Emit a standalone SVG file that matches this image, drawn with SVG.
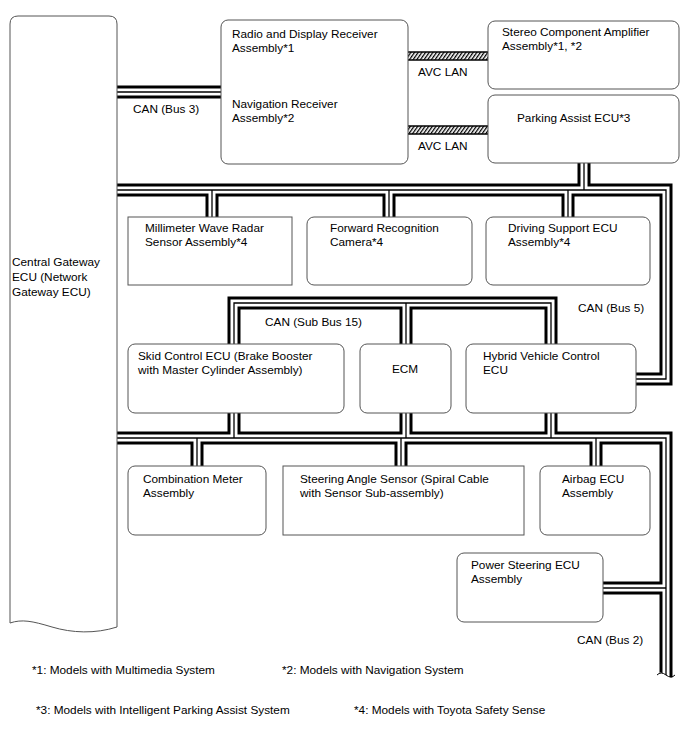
<svg xmlns="http://www.w3.org/2000/svg" xmlns:xlink="http://www.w3.org/1999/xlink" width="688" height="755" viewBox="0 0 688 755">
<style>
text{font-family:"Liberation Sans",Arial,Helvetica,sans-serif;font-size:11.8px;fill:#000}
.box{fill:#fff;stroke:#555;stroke-width:1}
.bus{fill:none;stroke-linejoin:miter;stroke-linecap:butt}
.b1{stroke:#000;stroke-width:13}
.b2{stroke:#fff;stroke-width:7}
.b3{stroke:#000;stroke-width:1.3}
.edge{stroke:#000;stroke-width:1.4}
</style>
<defs>
<pattern id="hatch" patternUnits="userSpaceOnUse" width="3" height="3" patternTransform="rotate(35)">
<rect x="0" y="0" width="1.3" height="3" fill="#000"/>
</pattern>
<g id="buses">
<path d="M115,92 H223"/>
<path d="M115,190 H666 V379 H634"/>
<path d="M584,161 V190"/>
<path d="M212,190 V219"/>
<path d="M389,190 V219"/>
<path d="M568,190 V219"/>
<path d="M234,346 V303 H551 V346"/>
<path d="M406,303 V346"/>
<path d="M115,438 H666 V678"/>
<path d="M234,411 V438"/>
<path d="M406,411 V438"/>
<path d="M551,411 V438"/>
<path d="M197,438 V468"/>
<path d="M401,438 V468"/>
<path d="M596,438 V468"/>
<path d="M666,588 H601"/>
</g>
</defs>
<g id="connectors">
<use xlink:href="#buses" href="#buses" class="bus b1"/>
<use xlink:href="#buses" href="#buses" class="bus b2"/>
<use xlink:href="#buses" href="#buses" class="bus b3"/>
<path d="M655,675 q5,-5 11,0 t11,0 V684 H655 Z" fill="#fff"/>
<path d="M657,675 q4,-4 9,0 t9,0" fill="none" stroke="#000" stroke-width="1"/>
<g id="avc1">
<rect x="408" y="52" width="80" height="8" fill="url(#hatch)"/>
<line x1="408" y1="52" x2="488" y2="52" class="edge"/>
<line x1="408" y1="60" x2="488" y2="60" class="edge"/>
</g>
<g id="avc2">
<rect x="408" y="126" width="80" height="8" fill="url(#hatch)"/>
<line x1="408" y1="126" x2="488" y2="126" class="edge"/>
<line x1="408" y1="134" x2="488" y2="134" class="edge"/>
</g>
<text x="133" y="113">CAN (Bus 3)</text>
<text x="418" y="76">AVC LAN</text>
<text x="418" y="150">AVC LAN</text>
<text x="578" y="312">CAN (Bus 5)</text>
<text x="265" y="326">CAN (Sub Bus 15)</text>
<text x="577" y="644">CAN (Bus 2)</text>
</g>
<g id="gateway">
<path class="box" d="M10,623 V24 Q10,16 18,16 H109 Q117,16 117,24 V627 C95,634 72,633 52,627 S22,619 10,623 Z"/>
<text x="12" y="266">Central Gateway</text>
<text x="12" y="281">ECU (Network</text>
<text x="12" y="296">Gateway ECU)</text>
</g>
<g id="radio">
<rect class="box" x="221" y="20" width="187" height="144" rx="7"/>
<text x="232" y="38">Radio and Display Receiver</text>
<text x="232" y="52">Assembly*1</text>
<text x="232" y="108">Navigation Receiver</text>
<text x="232" y="122">Assembly*2</text>
</g>
<g id="stereo">
<rect class="box" x="488" y="21" width="191" height="68" rx="7"/>
<text x="502" y="36">Stereo Component Amplifier</text>
<text x="502" y="50">Assembly*1, *2</text>
</g>
<g id="parking">
<rect class="box" x="488" y="95" width="191" height="68" rx="7"/>
<text x="517" y="122">Parking Assist ECU*3</text>
</g>
<g id="radar">
<rect class="box" x="128" y="217" width="164" height="68"/>
<text x="145" y="232">Millimeter Wave Radar</text>
<text x="145" y="246">Sensor Assembly*4</text>
</g>
<g id="camera">
<rect class="box" x="307" y="217" width="165" height="68" rx="7"/>
<text x="330" y="232">Forward Recognition</text>
<text x="330" y="246">Camera*4</text>
</g>
<g id="driving">
<rect class="box" x="486" y="217" width="164" height="68" rx="7"/>
<text x="508" y="232">Driving Support ECU</text>
<text x="508" y="246">Assembly*4</text>
</g>
<g id="skid">
<rect class="box" x="128" y="344" width="216" height="69" rx="7"/>
<text x="138" y="360">Skid Control ECU (Brake Booster</text>
<text x="138" y="374">with Master Cylinder Assembly)</text>
</g>
<g id="ecm">
<rect class="box" x="360" y="344" width="91" height="69" rx="7"/>
<text x="405" y="373" text-anchor="middle">ECM</text>
</g>
<g id="hybrid">
<rect class="box" x="466" y="344" width="170" height="69" rx="7"/>
<text x="483" y="360">Hybrid Vehicle Control</text>
<text x="483" y="374">ECU</text>
</g>
<g id="combination">
<rect class="box" x="128" y="466" width="138" height="69" rx="7"/>
<text x="143" y="483">Combination Meter</text>
<text x="143" y="497">Assembly</text>
</g>
<g id="steering">
<rect class="box" x="283" y="466" width="241" height="69"/>
<text x="300" y="483">Steering Angle Sensor (Spiral Cable</text>
<text x="300" y="497">with Sensor Sub-assembly)</text>
</g>
<g id="airbag">
<rect class="box" x="540" y="466" width="110" height="69" rx="7"/>
<text x="562" y="483">Airbag ECU</text>
<text x="562" y="497">Assembly</text>
</g>
<g id="powersteering">
<rect class="box" x="457" y="553" width="146" height="69" rx="7"/>
<text x="471" y="569">Power Steering ECU</text>
<text x="471" y="583">Assembly</text>
</g>
<g id="notes">
<text x="32" y="674">*1: Models with Multimedia System</text>
<text x="282" y="674">*2: Models with Navigation System</text>
<text x="36" y="714">*3: Models with Intelligent Parking Assist System</text>
<text x="354" y="714">*4: Models with Toyota Safety Sense</text>
</g>
</svg>
